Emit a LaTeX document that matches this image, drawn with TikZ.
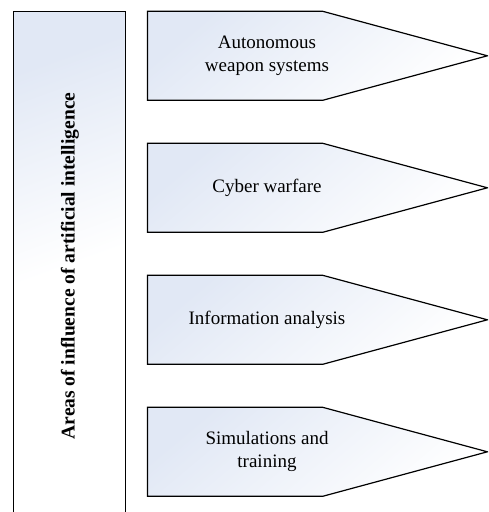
\documentclass[tikz,border=0pt]{standalone}
\usepackage{fontspec}
\setmainfont{Liberation Serif}
\definecolor{paleblue}{HTML}{E1E8F5}
\tikzset{
  x=1pt, y=1pt,
  outline/.style={draw=black, line width=1.2pt, line join=miter},
  panel/.style={outline, top color=paleblue, bottom color=white, shading angle=40},
  sidepanel/.style={outline, top color=paleblue, bottom color=white,
    middle color=white, shading angle=20},
  areatext/.style={align=center, font=\fontsize{19}{23}\selectfont, inner sep=0pt},
  titletext/.style={rotate=90, font=\fontsize{19.5}{23}\selectfont\bfseries, inner sep=0pt}
}
\begin{document}
\begin{tikzpicture}
\useasboundingbox (0,0) rectangle (488,512);
\clip (0,0) rectangle (488,512);
% tall side panel, running off the bottom edge
\path[sidepanel] (13.6,500.3) rectangle (125.7,-10);
\node[titletext] (title) at (70,246) {Areas of influence of artificial intelligence};
% four arrow-shaped panels, 132pt apart
\foreach \n/\t/\lab in {1/500.7/{Autonomous\\weapon systems},
                        2/368.7/{Cyber warfare},
                        3/236.7/{Information analysis},
                        4/104.7/{Simulations and\\training}}{
  \path[panel] (147.5,\t) -- (322.7,\t) -- (487.4,\t-44.5)
    -- (322.7,\t-89) -- (147.5,\t-89) -- cycle;
  \node[areatext] (area\n) at (267,\t-44.5) {\lab};
}
\end{tikzpicture}
\end{document}
